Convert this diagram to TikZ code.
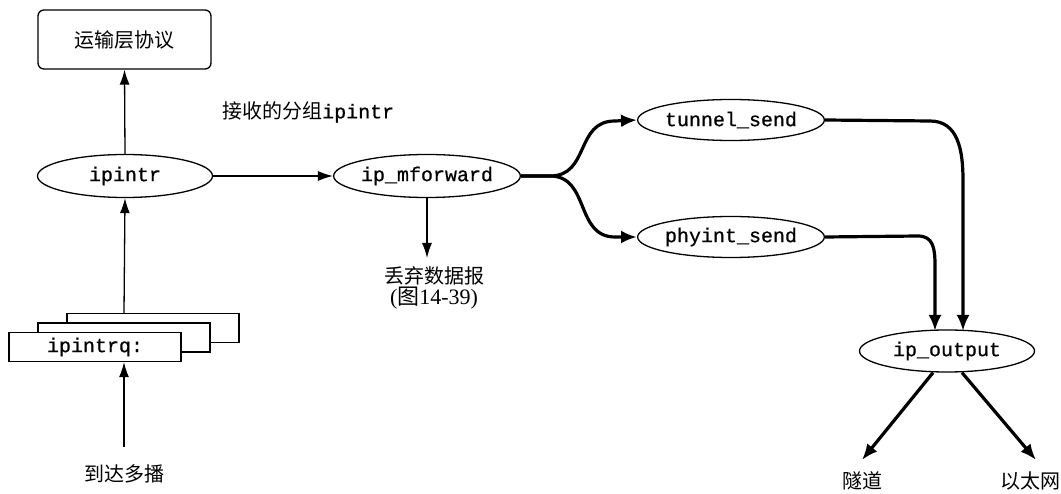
\documentclass[tikz,border=0pt]{standalone}
\usepackage{fontspec}
\newfontfamily\cjk{Noto Sans CJK SC}
\newfontfamily\mono[FakeBold=0.6]{Liberation Mono}
\newfontfamily\serifl{Liberation Serif}
\usetikzlibrary{shapes.geometric,arrows.meta}
\tikzset{
  fn/.style={ellipse,draw,line width=1.3pt,minimum width=175pt,minimum height=43pt,inner sep=0pt,font=\mono\fontsize{20}{24}\selectfont},
  qbox/.style={draw,line width=1.3pt,fill=white,minimum width=172pt,minimum height=29pt,inner sep=0pt},
  thin/.style={line width=1.3pt,-{Latex[length=15pt,width=10pt]}},
  thick/.style={line width=3.2pt,-{Latex[length=16pt,width=13pt]}},
  lbl/.style={font=\cjk\fontsize{20}{24}\selectfont,inner sep=0pt}
}
\begin{document}
\begin{tikzpicture}[x=1pt,y=-1pt]
\useasboundingbox (0,0) rectangle (1061,494);
% transport box
\node[draw,line width=1.3pt,rounded corners=6pt,minimum width=173pt,minimum height=59pt,inner sep=0pt,lbl] (tl) at (124.5,39.5) {运输层协议};
% function ellipses
\node[fn] (ipintr) at (125,176) {ipintr};
\node[fn,minimum width=177pt] (mf) at (427,176) {ip\_mforward};
\node[fn,minimum height=41pt] (ts) at (731,120) {tunnel\_send};
\node[fn,minimum height=41pt] (ps) at (731,237) {phyint\_send};
\node[fn,minimum height=42pt] (io) at (947,351) {ip\_output};
% stacked queue boxes
\node[qbox] (q3) at (153,328) {};
\node[qbox] (q2) at (124,337.5) {};
\node[qbox,font=\mono\fontsize{20}{24}\selectfont] (q1) at (95,347) {ipintrq:};
% labels
\node[lbl,anchor=west] (lrecv) at (222,112) {接收的分组{\mono ipintr}};
\node[lbl] (drop) at (434,276) {丢弃数据报};
\node[inner sep=0pt,font=\serifl\fontsize{22}{26}\selectfont] (fig) at (434,298) {(\cjk 图\serifl 14-39)};
\node[lbl] (arr) at (124,474) {到达多播};
\node[lbl] (tun) at (862,481) {隧道};
\node[lbl] (eth) at (1030,481) {以太网};
\coordinate (inb) at (124,447);
\coordinate (qtop) at (124,313);
\coordinate (dropt) at (427,258);
\coordinate (tunt) at (862,460);
\coordinate (etht) at (1036,460);
% connectors
\draw[thin] (ipintr.north) -- (tl.south);
\draw[thin] (qtop) -- (ipintr.south);
\draw[thin] (inb) -- (q1.south -| inb);
\draw[thin] (ipintr.east) -- (mf.west);
\draw[thin] (mf.south) -- (dropt);
\draw[thick] (mf.east) -- (550,176) .. controls (590,176) and (575,121) .. (615,121) -- (ts.west);
\draw[thick] (mf.east) -- (550,176) .. controls (590,176) and (575,237) .. (615,237) -- (ps.west);
\draw[thick] (ts.east) -- (930,121) .. controls (958,121) and (963,150) .. (963,180) -- (963,331);
\draw[thick] (ps.east) -- (918,236) .. controls (933,236) and (935,248) .. (935,265) -- (935,331);
\draw[thick] ([xshift=-14pt]io.south) -- (tunt);
\draw[thick] ([xshift=15pt]io.south) -- (etht);
\end{tikzpicture}
\end{document}
